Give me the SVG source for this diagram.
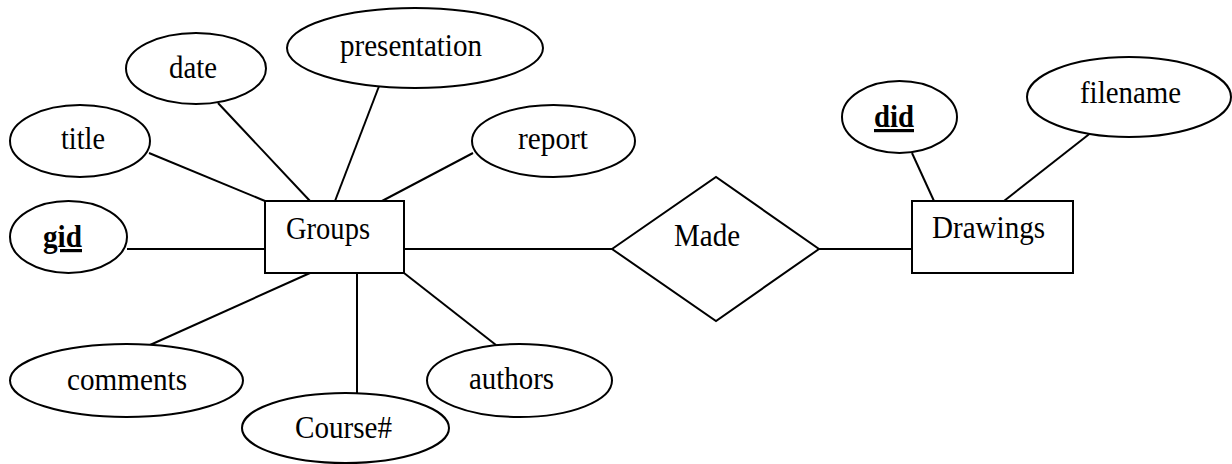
<svg xmlns="http://www.w3.org/2000/svg" width="1232" height="464" viewBox="0 0 1232 464">
<style>
.s{fill:#fff;stroke:#000;stroke-width:2}
.c line{stroke:#000;stroke-width:2}
text{font-family:"Liberation Serif","Times New Roman",serif;font-size:32px;fill:#000}
.k{font-weight:bold;text-decoration:underline}
</style>
<rect width="1232" height="464" fill="#fff"/>
<g class="c" id="connectors">
<line x1="149" y1="153" x2="265" y2="201"/>
<line x1="218" y1="103" x2="310" y2="201"/>
<line x1="381" y1="81" x2="335" y2="201"/>
<line x1="473" y1="153" x2="382" y2="201"/>
<line x1="127" y1="249" x2="265" y2="249"/>
<line x1="150" y1="345" x2="310" y2="273"/>
<line x1="357" y1="273" x2="357" y2="393"/>
<line x1="404" y1="273" x2="496" y2="345"/>
<line x1="404" y1="249" x2="612" y2="249"/>
<line x1="819" y1="249" x2="912" y2="249"/>
<line x1="912" y1="153" x2="934" y2="201"/>
<line x1="1097" y1="128" x2="1004" y2="201"/>
</g>
<g id="title"><ellipse class="s" cx="80" cy="141" rx="70" ry="36"/><text x="61" y="149" textLength="44" lengthAdjust="spacingAndGlyphs">title</text></g>
<g id="date"><ellipse class="s" cx="196" cy="68.5" rx="70" ry="35.5"/><text x="169" y="78" textLength="48" lengthAdjust="spacingAndGlyphs">date</text></g>
<g id="presentation"><ellipse class="s" cx="415" cy="48" rx="128" ry="40"/><text x="340" y="56" textLength="142" lengthAdjust="spacingAndGlyphs">presentation</text></g>
<g id="report"><ellipse class="s" cx="553.5" cy="141" rx="81.5" ry="36"/><text x="518" y="149" textLength="70" lengthAdjust="spacingAndGlyphs">report</text></g>
<g id="gid"><ellipse class="s" cx="68.5" cy="237" rx="58.5" ry="36"/><text class="k" x="43" y="247" textLength="39" lengthAdjust="spacingAndGlyphs">gid</text></g>
<g id="comments"><ellipse class="s" cx="126.5" cy="380.5" rx="116.5" ry="36.5"/><text x="67" y="390" textLength="120" lengthAdjust="spacingAndGlyphs">comments</text></g>
<g id="course"><ellipse class="s" cx="345.5" cy="428" rx="103.5" ry="35"/><text x="295" y="438" textLength="97" lengthAdjust="spacingAndGlyphs">Course#</text></g>
<g id="authors"><ellipse class="s" cx="519.5" cy="380.5" rx="92.5" ry="36.5"/><text x="469" y="389" textLength="85" lengthAdjust="spacingAndGlyphs">authors</text></g>
<g id="groups"><rect class="s" x="265" y="201" width="139" height="72"/><text x="286" y="239" textLength="84" lengthAdjust="spacingAndGlyphs">Groups</text></g>
<g id="made"><polygon class="s" points="612,249 716,177 819,249 716,321"/><text x="674" y="246" textLength="66" lengthAdjust="spacingAndGlyphs">Made</text></g>
<g id="drawings"><rect class="s" x="912" y="201" width="161" height="72"/><text x="932" y="238" textLength="113" lengthAdjust="spacingAndGlyphs">Drawings</text></g>
<g id="did"><ellipse class="s" cx="899.5" cy="117" rx="57.5" ry="36"/><text class="k" x="874" y="127" textLength="40" lengthAdjust="spacingAndGlyphs">did</text></g>
<g id="filename"><ellipse class="s" cx="1129" cy="97" rx="102" ry="40"/><text x="1080" y="103" textLength="101" lengthAdjust="spacingAndGlyphs">filename</text></g>
</svg>
